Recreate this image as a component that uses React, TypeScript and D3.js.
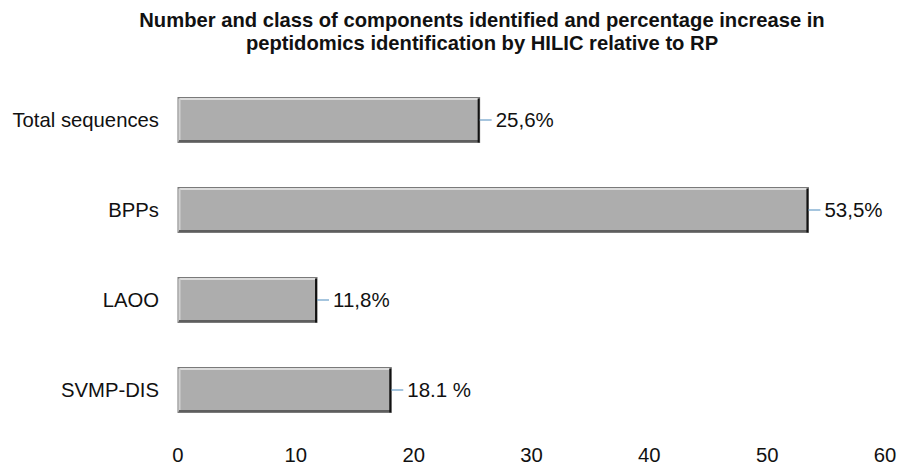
import React from "react";
import * as d3 from "d3";

const categories = ["Total sequences", "BPPs", "LAOO", "SVMP-DIS"];
const values = [25.6, 53.5, 11.8, 18.1];
const valueLabels = ["25,6%", "53,5%", "11,8%", "18.1 %"];
const xTicks = [0, 10, 20, 30, 40, 50, 60];
const titleLines = [
  "Number and class of components identified and percentage increase in",
  "peptidomics identification by HILIC relative to RP",
];

const W = 901;
const H = 469;
const FONT = "'Liberation Sans', Arial, sans-serif";

export default function App() {
  const x = d3.scaleLinear().domain([0, 60]).range([178, 885]);
  const y = d3
    .scaleBand<string>()
    .domain(categories)
    .range([75, 435])
    .paddingInner(0.5)
    .paddingOuter(0.25);
  const bw = y.bandwidth();

  return (
    <svg
      width={W}
      height={H}
      style={{ position: "absolute", left: 0, top: 0, background: "#fff" }}
    >
      {titleLines.map((t, i) => (
        <text
          key={i}
          x={482}
          y={27 + i * 23}
          textAnchor="middle"
          fontFamily={FONT}
          fontWeight="bold"
          fontSize={20.2}
          fill="#111"
        >
          {t}
        </text>
      ))}

      {categories.map((c, i) => {
        const y0 = y(c)!;
        const x0 = x(0);
        const x1 = x(values[i]);
        const cy = y0 + bw / 2;
        return (
          <g key={c}>
            <rect x={x0} y={y0} width={x1 - x0} height={bw} fill="#adadad" stroke="#7a7a7a" strokeWidth={1} />
            {/* bevel: light top/left, dark bottom/right */}
            <line x1={x0 + 1.5} y1={y0 + 1.5} x2={x1 - 1.5} y2={y0 + 1.5} stroke="#dcdcdc" strokeWidth={2} />
            <line x1={x0 + 1.5} y1={y0 + 1.5} x2={x0 + 1.5} y2={y0 + bw - 1.5} stroke="#d0d0d0" strokeWidth={2} />
            <line x1={x0 + 1} y1={y0 + bw - 1.5} x2={x1 - 1} y2={y0 + bw - 1.5} stroke="#5e5e5e" strokeWidth={2} />
            <line x1={x1 - 1} y1={y0 + 1} x2={x1 - 1} y2={y0 + bw} stroke="#111" strokeWidth={2} />
            <line x1={x1} y1={cy} x2={x1 + 12} y2={cy} stroke="#6a9ec8" strokeWidth={1.2} />
            <text x={x1 + 16} y={cy} dy="0.36em" fontFamily={FONT} fontSize={20.5} fill="#111">
              {valueLabels[i]}
            </text>
            <text x={159} y={cy} dy="0.36em" textAnchor="end" fontFamily={FONT} fontSize={20.3} fill="#111">
              {c}
            </text>
          </g>
        );
      })}

      {xTicks.map((t) => (
        <text
          key={t}
          x={x(t)}
          y={455}
          dy="0.36em"
          textAnchor="middle"
          fontFamily={FONT}
          fontSize={20.3}
          fill="#111"
        >
          {t}
        </text>
      ))}
    </svg>
  );
}
